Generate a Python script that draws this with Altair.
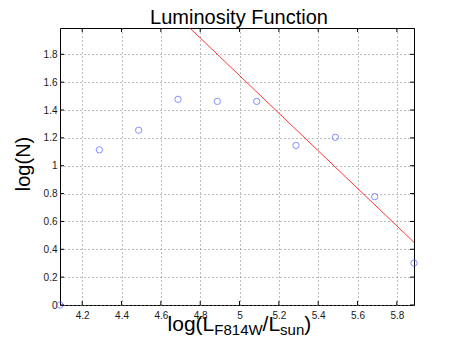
import altair as alt
import pandas as pd

# data
log_l = [4.087, 4.287, 4.487, 4.687, 4.887, 5.087, 5.287, 5.487, 5.687, 5.887]
log_n = [0.0, 1.114, 1.255, 1.477, 1.462, 1.462, 1.146, 1.204, 0.778, 0.301]
fit_x = [4.087, 5.887]
fit_y = [2.88, 0.45]
x_ticks = [4.2, 4.4, 4.6, 4.8, 5.0, 5.2, 5.4, 5.6, 5.8]
y_ticks = [0.0, 0.2, 0.4, 0.6, 0.8, 1.0, 1.2, 1.4, 1.6, 1.8]
xtitle_parts = ["log(L", "F814W", "/L", "sun", ")"]
title_text = "Luminosity Function"
ytitle_text = "log(N)"

X_DOM = [4.087, 5.887]
Y_DOM = [0.0, 1.989]
W, H = 354, 277
FONT = "Liberation Sans"

pts = pd.DataFrame({"x": log_l, "y": log_n})
fit = pd.DataFrame({"x": fit_x, "y": fit_y})
xt = pd.DataFrame({"v": x_ticks})
yt = pd.DataFrame({"v": y_ticks})

xs = alt.Scale(domain=X_DOM, nice=False, zero=False)
ys = alt.Scale(domain=Y_DOM, nice=False, zero=False)

common_axis = dict(format="~g", title=None, grid=True, gridDash=[1, 3],
                   gridColor="#7a7a7a", gridWidth=1, domain=False, ticks=False,
                   tickSize=0, labelFont=FONT, labelFontSize=10,
                   labelColor="#1a1a1a", labelOverlap=False, labelBound=False)
x_axis = alt.Axis(values=x_ticks, labelPadding=5, **common_axis)
y_axis = alt.Axis(values=y_ticks, labelPadding=3, **common_axis)

def X(field):
    return alt.X(field, type="quantitative", scale=xs, axis=x_axis, title=None)

def Y(field):
    return alt.Y(field, type="quantitative", scale=ys, axis=y_axis, title=None)

points = alt.Chart(pts).mark_point(shape="circle", filled=False, color="#4f63ff",
                                   size=40, strokeWidth=1, clip=False).encode(
    x=X("x"), y=Y("y"))

line = alt.Chart(fit).mark_line(color="#ff2020", strokeWidth=0.9, clip=True).encode(
    x=X("x"), y=Y("y"))

# inward tick marks on all four sides
tb = alt.Chart(xt).mark_rule(color="#000000", strokeWidth=1).encode(
    x=X("v"), y=alt.value(H), y2=alt.value(H - 4))
tt = alt.Chart(xt).mark_rule(color="#000000", strokeWidth=1).encode(
    x=X("v"), y=alt.value(0), y2=alt.value(4))
tl = alt.Chart(yt).mark_rule(color="#000000", strokeWidth=1).encode(
    y=Y("v"), x=alt.value(0), x2=alt.value(4))
tr = alt.Chart(yt).mark_rule(color="#000000", strokeWidth=1).encode(
    y=Y("v"), x=alt.value(W), x2=alt.value(W - 4))

# x-axis title with subscripts (text pieces)
part_px = [107.6, 154.3, 202.6, 220.1, 244.3]
part_py = [26, 30, 26, 30, 26]
part_fs = [21, 15, 21, 15, 21]
xtitle_layers = []
for t, px, py, fs in zip(xtitle_parts, part_px, part_py, part_fs):
    xtitle_layers.append(
        alt.Chart(pd.DataFrame({"t": [t]})).mark_text(
            font=FONT, fontSize=fs, align="left", baseline="alphabetic",
            color="#000000").encode(text="t:N", x=alt.value(px), y=alt.value(H + py))
    )

ytitle = alt.Chart(pd.DataFrame({"t": [ytitle_text]})).mark_text(
    font=FONT, fontSize=20, angle=270, align="center", baseline="middle",
    color="#000000").encode(text="t:N", x=alt.value(-36), y=alt.value(136))

title = alt.Chart(pd.DataFrame({"t": [title_text]})).mark_text(
    font=FONT, fontSize=20, align="center", baseline="alphabetic",
    color="#000000").encode(text="t:N", x=alt.value(179), y=alt.value(-4.5))

chart = alt.layer(points, line, tb, tt, tl, tr, ytitle, title, *xtitle_layers).properties(
    width=W, height=H,
    padding={"left": 52, "top": 20, "right": 30, "bottom": 31},
    autosize=alt.AutoSizeParams(type="none"),
).configure_view(stroke="#000000", strokeWidth=1)

chart.save("out.html", embed_options={"renderer": "svg", "actions": False})
